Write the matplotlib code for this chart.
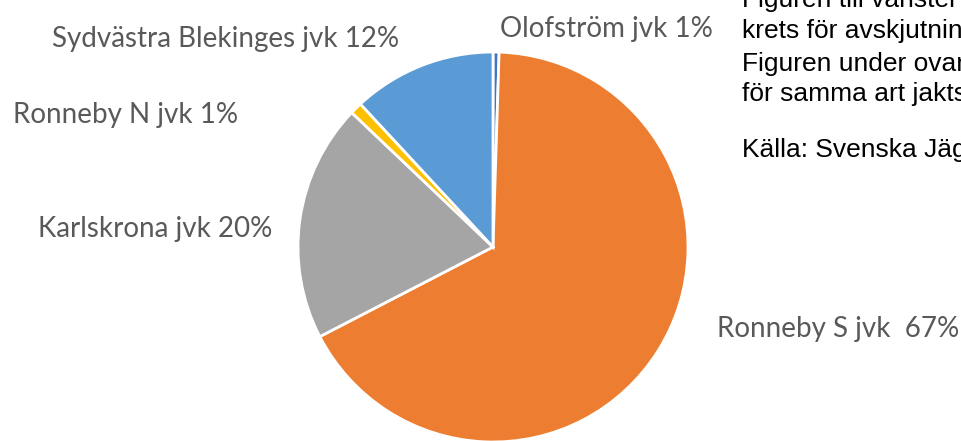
import matplotlib.pyplot as plt

# data
names = ['Olofström jvk', 'Ronneby S jvk', 'Karlskrona jvk', 'Ronneby N jvk', 'Sydvästra Blekinges jvk']
shares = [0.5, 66.9, 19.7, 1.0, 11.9]
pct_labels = ['1%', '67%', '20%', '1%', '12%']
colors = ['#4472C4', '#ED7D31', '#A5A5A5', '#FFC000', '#5B9BD5']

side_text = ['Figuren till vänster visar fördelningen per jaktvårds-',
             'krets för avskjutningen av arten i länet.',
             'Figuren under ovanstående visar utvecklingen',
             'för samma art jaktsäsongerna bakåt i tiden.']
source_text = 'Källa: Svenska Jägareförbundet'

W, H = 962, 441
fig = plt.figure(figsize=(W / 100, H / 100), dpi=100)
fig.patch.set_facecolor('white')

# pie centre (493, 247) px from top-left, radius 195 px
cx, cy, r = 493, 247, 195
ax = fig.add_axes([(cx - r) / W, (H - cy - r) / H, 2 * r / W, 2 * r / H])
ax.pie(shares, colors=colors, startangle=90, counterclock=False,
       wedgeprops={'edgecolor': 'white', 'linewidth': 2})
ax.set_xlim(-1, 1)
ax.set_ylim(-1, 1)
ax.set_aspect('equal')
ax.axis('off')

# data labels (left x, baseline y in px from top)
label_pos = [(500, 37), (717, 337), (38, 237), (13, 123), (52, 47)]
for i in range(len(names)):
    gap = '  ' if i == 1 else ' '
    x, y = label_pos[i]
    fig.text(x / W, 1 - y / H, names[i] + gap + pct_labels[i], ha='left', va='baseline',
             fontsize=20, family='Lato', color='#595959')

# text block on the right, cut off by the figure edge like in the source
baselines = [7, 38, 71, 101]
for t, b in zip(side_text, baselines):
    fig.text(742 / W, 1 - b / H, t, ha='left', va='baseline', fontsize=19,
             family='Liberation Sans', color='black')
fig.text(742 / W, 1 - 157 / H, source_text, ha='left', va='baseline', fontsize=19,
         family='Liberation Sans', color='black')

plt.savefig('out.png', dpi=100)
